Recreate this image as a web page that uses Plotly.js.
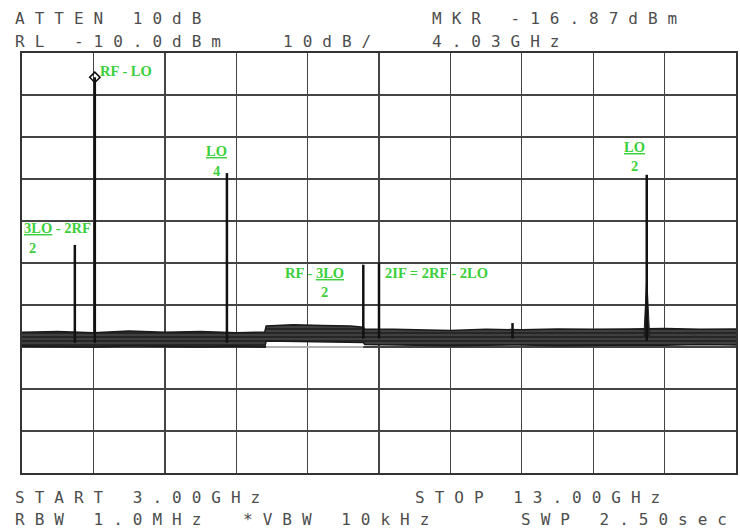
<!DOCTYPE html>
<html>
<head>
<meta charset="utf-8">
<script src="https://cdn.plot.ly/plotly-3.0.1.min.js"></script>
<style>
html,body{margin:0;padding:0;background:#fff;}
#chart{width:740px;height:531px;}
</style>
</head>
<body>
<div id="chart"></div>
<script>
// ---- data (GHz, dBm) ----
var spikeFreq  = [3.74, 4.02, 5.87, 7.78, 8.00, 9.87, 11.75];
var spikeLevel = [-55.7, -15.8, -38.6, -60.4, -59.9, -74.3, -39.0];
var spikeBase  = [-79.0, -79.0, -79.0, -78.0, -78.0, -78.0, -78.5];

var floorFreq   = [3.0, 3.5, 4.0, 4.5, 5.0, 5.5, 6.0, 6.4, 6.42, 6.8, 7.2, 7.6, 7.78, 7.8, 8.2, 8.6, 9.0, 9.5, 10.0, 10.5, 11.0, 11.5, 12.0, 12.5, 13.0];
var floorTop    = [-76.5, -76.3, -76.6, -76.2, -76.5, -76.3, -76.6, -76.4, -75.0, -74.7, -74.9, -75.0, -75.3, -75.7, -75.8, -76.0, -76.1, -75.8, -75.9, -75.7, -75.8, -75.7, -75.6, -75.8, -75.7];
var floorBottom = [-79.8, -79.9, -80.0, -79.7, -79.9, -80.0, -79.8, -80.0, -78.6, -78.7, -78.8, -78.8, -78.9, -79.4, -79.5, -79.6, -79.7, -79.6, -79.5, -79.7, -79.6, -79.5, -79.6, -79.4, -79.5];

var shadowFreq  = [6.42, 7.78];
var shadowLevel = [-80.0, -80.0];

var skirtFreq  = [11.71, 11.75, 11.79];
var skirtLevel = [-77.5, -63.3, -77.5];

var markerFreq  = [4.02];
var markerLevel = [-15.8];

var headerTexts = ['ATTEN 10dB', 'MKR -16.87dBm', 'RL -10.0dBm', '10dB/', '4.03GHz'];
var footerTexts = ['START 3.00GHz', 'STOP 13.00GHz', 'RBW 1.0MHz', '*VBW 10kHz', 'SWP 2.50sec'];

// ---- build traces ----
var sx = [], sy = [];
for (var i = 0; i < spikeFreq.length; i++) {
  sx.push(spikeFreq[i], spikeFreq[i], null);
  sy.push(spikeBase[i], spikeLevel[i], null);
}

var traces = [
  {x: floorFreq, y: floorBottom, mode: 'lines', line: {color: '#1a1a1a', width: 1.5}, hoverinfo: 'skip'},
  {x: floorFreq, y: floorTop, mode: 'lines', fill: 'tonexty', fillcolor: '#2e2e2e',
   fillpattern: {shape: '-', bgcolor: '#262626', fgcolor: '#5a5a5a', size: 4, solidity: 0.25},
   line: {color: '#1a1a1a', width: 1.5}, hoverinfo: 'skip'},
  {x: shadowFreq, y: shadowLevel, mode: 'lines', line: {color: '#b0b0b0', width: 2}, hoverinfo: 'skip'},
  {x: skirtFreq, y: skirtLevel, mode: 'lines', fill: 'toself', fillcolor: '#222',
   line: {color: '#222', width: 1}, hoverinfo: 'skip'},
  {x: sx, y: sy, mode: 'lines', line: {color: '#111', width: 2.5}, connectgaps: false, hoverinfo: 'skip'},
  {x: markerFreq, y: markerLevel, mode: 'markers',
   marker: {symbol: 'diamond-open', size: 8, color: '#111', line: {width: 1.5}}, hoverinfo: 'skip'}
];

// ---- layout helpers ----
var L = 22, R = 736, T = 53, B = 473;
function px(x) { return (x - L) / (R - L); }
function py(y) { return (B - y) / (B - T); }

var green = '#3ccf3c';
var gFont = {family: 'Liberation Serif', size: 14.5, color: green, weight: 'bold'};
function g(text, x, y, xa) {
  return {text: text, x: x, y: y, xref: 'x', yref: 'y', showarrow: false,
          xanchor: xa || 'left', yanchor: 'middle', font: gFont};
}
var mFont = {family: 'DejaVu Sans Mono', size: 16, color: '#4d4d4d'};
function m(text, x, y, xa) {
  return {text: '<span style="letter-spacing:10px">' + text + '</span>', x: px(x), y: py(y),
          xref: 'paper', yref: 'paper', showarrow: false, xanchor: xa || 'left', yanchor: 'middle',
          font: mFont};
}

var annotations = [
  m(headerTexts[0], 13, 18), m(headerTexts[1], 430, 18),
  m(headerTexts[2], 13, 41), m(headerTexts[3], 281, 41), m(headerTexts[4], 430, 41),
  m(footerTexts[0], 13, 497), m(footerTexts[1], 413, 497),
  m(footerTexts[2], 13, 519), m(footerTexts[3], 241, 519), m(footerTexts[4], 739, 519, 'right'),

  g('RF - LO', 4.06, -14.3),
  g('<u>3LO</u> - 2RF', 3.0, -51.6),
  g('2', 3.15, -56.4, 'center'),
  g('<u>LO</u>', 5.73, -33.4, 'center'),
  g('4', 5.73, -38.0, 'center'),
  g('RF - <u>3LO</u>', 6.66, -62.3),
  g('2', 7.23, -66.8, 'center'),
  g('2IF = 2RF - 2LO', 8.06, -62.3),
  g('<u>LO</u>', 11.585, -32.4, 'center'),
  g('2', 11.585, -36.9, 'center')
];

var axisCommon = {
  showgrid: true, gridcolor: '#444', gridwidth: 1.4,
  zeroline: false, showline: true, mirror: true, linecolor: '#333', linewidth: 2,
  showticklabels: false, ticks: '', fixedrange: true
};

var layout = {
  width: 740, height: 531,
  margin: {l: L, r: 740 - R, t: T, b: 531 - B, pad: 0},
  paper_bgcolor: '#ffffff', plot_bgcolor: '#ffffff',
  showlegend: false,
  xaxis: Object.assign({range: [3, 13], tick0: 3, dtick: 1}, axisCommon),
  yaxis: Object.assign({range: [-110, -10], tick0: -110, dtick: 10}, axisCommon),
  annotations: annotations
};

Plotly.newPlot('chart', traces, layout, {staticPlot: true, displayModeBar: false});
</script>
</body>
</html>
